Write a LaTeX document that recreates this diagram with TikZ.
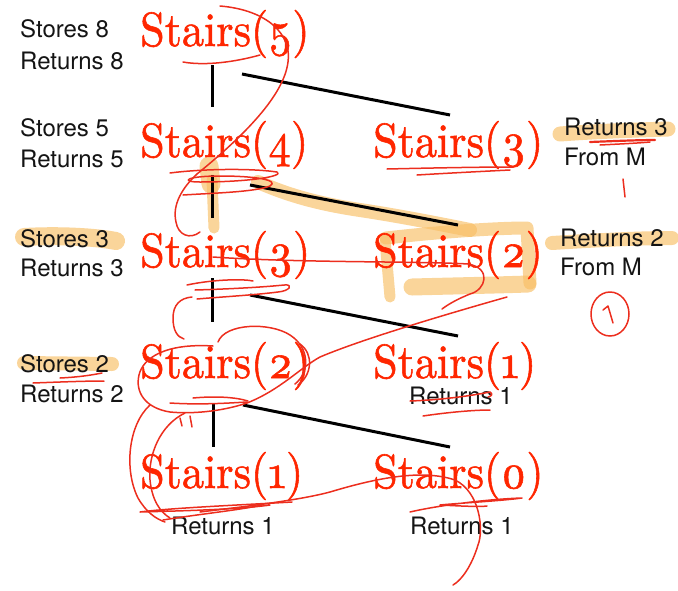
\documentclass[tikz,border=0pt]{standalone}
\usepackage{graphicx}
\usepackage{fontspec}
\newfontfamily\stairsfont{lmroman10-regular.otf}[Numbers=OldStyle, FakeBold=1.2]
\newfontfamily\labelfont{TeX Gyre Heros}
\definecolor{stairred}{RGB}{255,38,0}
\definecolor{penred}{RGB}{236,46,30}
\definecolor{hilite}{RGB}{248,190,100}
\definecolor{labelgray}{RGB}{20,20,20}
\newcommand{\callname}[1]{\scalebox{0.92}[1]{\bfseries Stairs(#1)}}
\tikzset{
  callnode/.style={anchor=base west, inner sep=0pt, text=stairred,
    font=\stairsfont\fontsize{48}{48}\selectfont},
  lbl/.style={anchor=base west, inner sep=0pt, text=labelgray,
    font=\labelfont\fontsize{24}{28}\selectfont},
  link/.style={line width=3pt, black},
  pen/.style={draw=penred, line width=1.5pt, line cap=round, line join=round},
  marker/.style={draw=hilite, draw opacity=0.65, line cap=round, line join=round},
}
\begin{document}
\begin{tikzpicture}[x=1pt, y=-1pt]
\useasboundingbox (0,0) rectangle (678,590);

% ---------- highlighter strokes (underneath everything) ----------
\draw[marker, line width=18pt] (24,237) .. controls (60,235) and (95,237) .. (116,241);
\draw[marker, line width=14pt] (24,363) -- (112,364);
\draw[marker, line width=15pt] (560,134) .. controls (600,131) and (640,130) .. (668,129);
\draw[marker, line width=14pt] (552,243) .. controls (600,240) and (640,238) .. (672,238);
\draw[marker, line width=19pt] (209,166) -- (211,184);
\draw[marker, line width=11pt] (212,180) -- (214,228);
\draw[marker, line width=14pt] (258,182) .. controls (290,196) and (320,204) .. (360,210) .. controls (400,216) and (440,224) .. (470,230);
\draw[marker, line width=13pt] (386,238) .. controls (430,233) and (490,228) .. (527,228) -- (530,283);
\draw[marker, line width=17pt] (412,287) .. controls (450,286) and (500,285) .. (528,284);
\draw[marker, line width=11pt] (385,240) -- (390,297);

% ---------- call tree ----------
\node[callnode] (s5)  at (140,46)  {\callname{5}};
\node[callnode] (s4)  at (140,157) {\callname{4}};
\node[callnode] (s3r) at (373,157) {\callname{3}};
\node[callnode] (s3)  at (140,267) {\callname{3}};
\node[callnode] (s2r) at (373,267) {\callname{2}};
\node[callnode] (s2)  at (140,378) {\callname{2}};
\node[callnode] (s1r) at (373,378) {\callname{1}};
\node[callnode] (s1)  at (140,488) {\callname{1}};
\node[callnode] (s0)  at (373,488) {\callname{0}};

\draw[link] ([shift={(72,19)}]s5.base west)  -- ([shift={(72,-50)}]s4.base west);
\draw[link] ([shift={(102,28)}]s5.base west) -- ([shift={(77,-42)}]s3r.base west);
\draw[link] ([shift={(72,18)}]s4.base west)  -- ([shift={(72,-49)}]s3.base west);
\draw[link] ([shift={(110,28)}]s4.base west) -- ([shift={(85,-42)}]s2r.base west);
\draw[link] ([shift={(72,11)}]s3.base west)  -- ([shift={(72,-56)}]s2.base west);
\draw[link] ([shift={(110,28)}]s3.base west) -- ([shift={(85,-42)}]s1r.base west);
\draw[link] ([shift={(73,25)}]s2.base west)  -- ([shift={(73,-41)}]s1.base west);
\draw[link] ([shift={(103,27)}]s2.base west) -- ([shift={(77,-41)}]s0.base west);

% ---------- notes ----------
\node[lbl] (st8) at (20,37)  {Stores 8};
\node[lbl] (rt8) at (20,69)  {Returns 8};
\node[lbl] (st5) at (20,136) {Stores 5};
\node[lbl] (rt5) at (20,167) {Returns 5};
\node[lbl] (st3) at (20,247) {Stores 3};
\node[lbl] (rt3) at (20,276) {Returns 3};
\node[lbl] (st2) at (20,372) {Stores 2};
\node[lbl] (rt2) at (20,402) {Returns 2};
\node[lbl] (m3)  at (564,135) {Returns 3};
\node[lbl] (m3f) at (564,165) {From M};
\node[lbl] (m2)  at (560,246) {Returns 2};
\node[lbl] (m2f) at (560,275) {From M};
\node[lbl] (r1a) at (409,404) {Returns 1};
\node[lbl] (r1b) at (171,534) {Returns 1};
\node[lbl] (r1c) at (410,534) {Returns 1};

% ---------- pen marks ----------
% around Stairs(5) and down to Stairs(4)
\draw[pen] (183,62) .. controls (205,66) and (235,62) .. (260,55);
\draw[pen] (220,6) .. controls (268,10) and (292,35) .. (288,62) .. controls (284,95) and (245,135) .. (197,174)
  .. controls (182,188) and (172,205) .. (176,222) .. controls (178,235) and (190,240) .. (200,232);
% scribble under Stairs(4)
\draw[pen] (170,173) .. controls (200,169) and (250,168) .. (277,172) .. controls (285,176) and (250,182) .. (200,182)
  .. controls (180,182) and (185,176) .. (220,176) .. controls (255,176) and (280,180) .. (270,186)
  .. controls (255,192) and (215,193) .. (183,195);
% strike through Stairs(3) and curl
\draw[pen] (213,257) .. controls (300,263) and (420,261) .. (468,264) .. controls (492,268) and (486,290) .. (470,294)
  .. controls (460,298) and (450,303) .. (442,309);
% long stroke down to Stairs(2) and the loop round it
\draw[pen] (507,297) .. controls (440,316) and (360,340) .. (320,357) .. controls (300,368) and (280,390) .. (247,403)
  .. controls (220,412) and (190,414) .. (170,412) .. controls (145,408) and (135,392) .. (139,375)
  .. controls (143,358) and (165,343) .. (213,346);
% scribbles under Stairs(3)
\draw[pen] (187,285) .. controls (215,279) and (245,279) .. (253,281);
\draw[pen] (195,290) .. controls (230,289) and (265,287) .. (284,285) .. controls (294,284) and (290,291) .. (278,292)
  .. controls (255,295) and (220,297) .. (197,299);
\draw[pen] (192,297) .. controls (180,298) and (173,305) .. (173,318) .. controls (173,330) and (177,337) .. (184,339);
% arcs over Stairs(2)
\draw[pen] (218,342) .. controls (225,323) and (270,322) .. (290,335) .. controls (310,348) and (310,372) .. (295,384);
\draw[pen] (300,344) .. controls (314,354) and (312,375) .. (298,385);
% under Stairs(2) and down to Stairs(1)
\draw[pen] (170,403) .. controls (200,405) and (230,403) .. (247,402);
\draw[pen] (193,398) .. controls (215,396) and (235,397) .. (248,401);
\draw[pen] (150,405) .. controls (128,425) and (124,470) .. (138,498) .. controls (146,512) and (156,519) .. (165,522);
\draw[pen] (185,413) .. controls (160,425) and (148,455) .. (150,480) .. controls (152,500) and (160,512) .. (170,518);
\draw[pen] (180,418) -- (182,426);
\draw[pen] (190,416) -- (192,427);
% under Stairs(1), across Stairs(0) and down
\draw[pen] (292,502) .. controls (240,505) and (170,508) .. (140,512) -- (175,511) .. controls (210,510) and (250,508) .. (270,505);
\draw[pen] (163,520) .. controls (200,514) and (240,510) .. (262,505);
\draw[pen] (200,512) .. controls (250,506) and (300,500) .. (330,492) .. controls (370,480) and (420,468) .. (455,480)
  .. controls (480,492) and (484,530) .. (478,545) .. controls (472,565) and (462,580) .. (453,585);
\draw[pen] (410,512) .. controls (440,505) and (490,499) .. (522,498) .. controls (500,501) and (460,503) .. (440,505)
  .. controls (460,506) and (480,507) .. (487,506);
% Stairs(1) on the right: its Returns 1
\draw[pen] (410,401) .. controls (440,400) and (470,396) .. (490,392) .. controls (493,394) and (492,396) .. (488,397);
\draw[pen] (423,416) .. controls (450,412) and (475,410) .. (490,410);
% Stairs(3) on the right
\draw[pen] (387,169) .. controls (430,168) and (480,167) .. (513,167);
\draw[pen] (417,175) .. controls (450,173) and (490,171) .. (510,170);
% margin notes
\draw[pen, line width=2.2pt] (590,142) .. controls (615,141) and (640,140) .. (655,140);
\draw[pen] (600,145) .. controls (620,144) and (640,143) .. (650,142);
\draw[pen] (623,179) -- (625,197);
\draw[pen] (610,314) ellipse [x radius=19pt, y radius=22pt];
\draw[pen] (603,310) -- (608,306) -- (613,323);
\draw[pen] (33,383) .. controls (60,382) and (85,381) .. (104,381);
\draw[pen] (60,378) .. controls (80,377) and (92,375) .. (102,373);
\end{tikzpicture}
\end{document}
